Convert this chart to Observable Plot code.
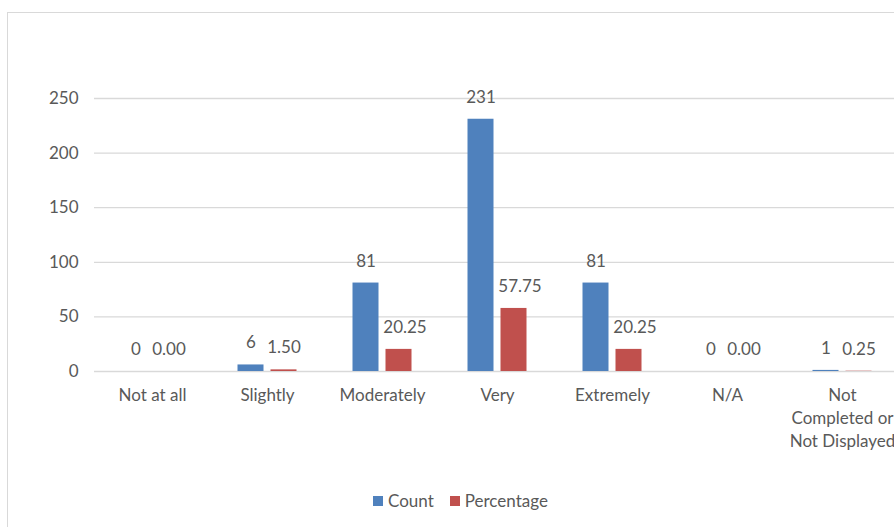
<!DOCTYPE html>
<html>
<head>
<meta charset="utf-8">
<script src="https://cdn.jsdelivr.net/npm/d3@7"></script>
<script src="https://cdn.jsdelivr.net/npm/@observablehq/plot@0.6"></script>
<style>
  html, body { margin: 0; padding: 0; background: #fff; overflow: hidden; width: 894px; height: 527px; }
  #frame { position: absolute; left: 7px; top: 12px; width: 1000px; height: 600px; border: 1px solid #d9d9d9; box-sizing: border-box; }
  #chart { position: absolute; left: 0; top: 0; width: 910px; }
  #chart svg { max-width: none !important; }
  #legend { position: absolute; top: 490px; left: 373px; font-family: Lato, "Open Sans", sans-serif; font-size: 17px; color: #595959; display: flex; align-items: center; white-space: nowrap; }
  #legend .sw { display: inline-block; width: 10px; height: 10px; margin-right: 5px; }
  #legend .item { display: flex; align-items: center; margin-right: 16px; }
</style>
</head>
<body>
<div id="frame"></div>
<div id="chart"></div>
<div id="legend"></div>
<script>
const categories = ["Not at all", "Slightly", "Moderately", "Very", "Extremely", "N/A", "Not Completed or Not Displayed"];
const tickLabels = ["Not at all", "Slightly", "Moderately", "Very", "Extremely", "N/A", "Not\nCompleted or\nNot Displayed"];
const countValues = [0, 6, 81, 231, 81, 0, 1];
const percentValues = [0.00, 1.50, 20.25, 57.75, 20.25, 0.00, 0.25];
const yTicks = [0, 50, 100, 150, 200, 250];
const seriesNames = ["Count", "Percentage"];
const seriesColors = ["#4f81bd", "#c0504d"];

const countData = categories.map((c, i) => ({category: c, value: countValues[i], label: String(countValues[i])}));
const pctData = categories.map((c, i) => ({category: c, value: percentValues[i], label: percentValues[i].toFixed(2),
  nearTallBar: countValues[i] - percentValues[i] > 27}));

const font = 'Lato, "Open Sans", sans-serif';
const textColor = "#595959";
const fs = 17;

const chart = Plot.plot({
  width: 910,
  height: 470,
  marginLeft: 94,
  marginRight: 11,
  marginTop: 98,
  marginBottom: 99,
  style: {fontFamily: font, fontSize: fs + "px", color: textColor, background: "transparent", overflow: "visible", maxWidth: "none"},
  x: {domain: categories, paddingInner: 0.774, paddingOuter: 0.387, label: null},
  y: {domain: [0, 250], label: null},
  marks: [
    Plot.ruleY(yTicks, {stroke: "#d9d9d9", strokeWidth: 1.3}),
    Plot.axisY(yTicks, {tickSize: 0, tickPadding: 16, fill: textColor, fontSize: fs, label: null}),
    Plot.axisX({tickSize: 0, tickPadding: 13, fill: textColor, fontSize: fs, lineHeight: 1.36, lineAnchor: "top",
      tickFormat: (d) => tickLabels[categories.indexOf(d)], label: null}),
    Plot.barY(countData, {x: "category", y: "value", fill: seriesColors[0], dx: -16.5}),
    Plot.barY(pctData, {x: "category", y: "value", fill: seriesColors[1], dx: 16.5}),
    Plot.text(countData, {x: "category", y: "value", text: "label", dx: -16.5, dy: -22, fill: textColor, fontSize: fs}),
    Plot.text(pctData, {filter: (d) => !d.nearTallBar, x: "category", y: "value", text: "label", dx: 16.5, dy: -22, fill: textColor, fontSize: fs}),
    Plot.text(pctData, {filter: (d) => d.nearTallBar, x: "category", y: "value", text: "label", dx: 22.5, dy: -22, fill: textColor, fontSize: fs})
  ]
});
document.getElementById("chart").appendChild(chart);

const legend = document.getElementById("legend");
seriesNames.forEach((name, i) => {
  const item = document.createElement("span");
  item.className = "item";
  const sw = document.createElement("span");
  sw.className = "sw";
  sw.style.background = seriesColors[i];
  item.appendChild(sw);
  item.appendChild(document.createTextNode(name));
  legend.appendChild(item);
});
</script>
</body>
</html>
